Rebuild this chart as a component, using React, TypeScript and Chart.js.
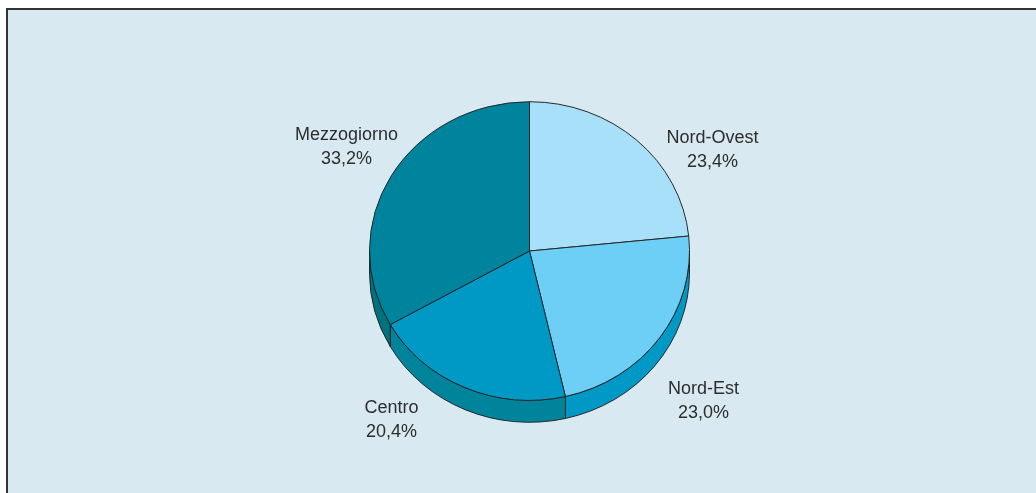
import React, { useEffect, useRef } from "react";
import { Chart, registerables } from "chart.js";

Chart.register(...registerables);

// ---- data ----
const CATEGORIES: string[] = ["Nord-Ovest", "Nord-Est", "Centro", "Mezzogiorno"];
const VALUES: number[] = [23.4, 23.0, 20.4, 33.2];

// ---- styles / layout (not data) ----
const TOP_COLORS = ["#a9e0f9", "#6dcff6", "#0099c5", "#00839c"];
const SIDE_COLORS = ["#0099c6", "#0099c6", "#00849c", "#00717f"];
const BORDER = "#222222";
const BG = "#d8e9f1";
const SY = 0.933; // vertical squash of the pie's top face
const DEPTH = 22; // px thickness of the 3D side
// label first-baseline position relative to the pie centre (px)
const LABEL_OFFSETS: [number, number][] = [
  [183, -108],
  [174, 143],
  [-138, 162],
  [-183, -111],
];
const LINE_H = 23.5;

const fmt = (v: number) => v.toFixed(1).replace(".", ",") + "%";

const pie3d = {
  id: "pie3d",
  beforeDatasetsDraw(chart: any) {
    const meta = chart.getDatasetMeta(0);
    const ctx: CanvasRenderingContext2D = chart.ctx;
    const a0 = meta.data[0];
    const cx = a0.x;
    const cy = a0.y;
    ctx.save();
    ctx.translate(cx, cy);
    ctx.scale(1, SY);
    ctx.translate(-cx, -cy);
    const d = DEPTH / SY;
    meta.data.forEach((arc: any, i: number) => {
      const p = arc.getProps(["startAngle", "endAngle", "outerRadius"], true);
      const R = p.outerRadius;
      const s = Math.max(p.startAngle, 0);
      const e = Math.min(p.endAngle, Math.PI);
      if (e <= s) return;
      ctx.beginPath();
      ctx.arc(cx, cy, R, s, e);
      ctx.lineTo(cx + R * Math.cos(e), cy + d + R * Math.sin(e));
      ctx.arc(cx, cy + d, R, e, s, true);
      ctx.closePath();
      ctx.fillStyle = SIDE_COLORS[i];
      ctx.fill();
      ctx.lineWidth = 1;
      ctx.strokeStyle = BORDER;
      ctx.stroke();
    });
  },
  afterDatasetsDraw(chart: any) {
    chart.ctx.restore();
  },
  afterDraw(chart: any) {
    const meta = chart.getDatasetMeta(0);
    const ctx: CanvasRenderingContext2D = chart.ctx;
    const cx = meta.data[0].x;
    const cy = meta.data[0].y;
    ctx.save();
    ctx.font = '18px "Liberation Sans", Arial, sans-serif';
    ctx.fillStyle = "#2d2d2d";
    ctx.textAlign = "center";
    ctx.textBaseline = "alphabetic";
    CATEGORIES.forEach((c, i) => {
      const [dx, dy] = LABEL_OFFSETS[i];
      ctx.fillText(c, cx + dx, cy + dy);
      ctx.fillText(fmt(VALUES[i]), cx + dx, cy + dy + LINE_H);
    });
    ctx.restore();
  },
};

export default function App() {
  const ref = useRef<HTMLCanvasElement | null>(null);
  useEffect(() => {
    document.body.style.margin = "0";
    const chart = new Chart(ref.current as HTMLCanvasElement, {
      type: "pie",
      data: {
        labels: CATEGORIES,
        datasets: [
          {
            data: VALUES,
            backgroundColor: TOP_COLORS,
            borderColor: BORDER,
            borderWidth: 1,
          },
        ],
      },
      options: {
        responsive: false,
        animation: false,
        events: [],
        layout: { padding: { left: 369, right: 346, top: 90.5, bottom: 81.5 } },
        plugins: {
          legend: { display: false },
          tooltip: { enabled: false },
          title: { display: false },
        },
      },
      plugins: [pie3d],
    });
    return () => chart.destroy();
  }, []);
  return (
    <div style={{ position: "fixed", left: 0, top: 0, width: 1036, height: 493, background: "#fff", overflow: "hidden" }}>
      <div
        style={{
          position: "absolute",
          left: 6,
          top: 8,
          width: 1100,
          height: 600,
          background: BG,
          borderTop: "2px solid #333",
          borderLeft: "2px solid #333",
        }}
      />
      <canvas ref={ref} width={1036} height={493} style={{ position: "absolute", left: 0, top: 0 }} />
    </div>
  );
}
